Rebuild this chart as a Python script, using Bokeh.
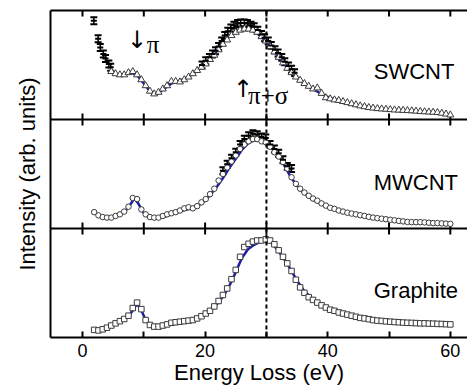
import numpy as np
from bokeh.plotting import figure
from bokeh.models import (Range1d, LinearAxis, FixedTicker, Span, Label,
                          ColumnDataSource, Whisker, TeeHead)
from bokeh.embed import file_html
from bokeh.resources import INLINE

# ---------------- data (normalised intensity inside each panel) ----------------
energy = [1.9, 2.6, 3.3, 4.0, 4.7, 5.4, 6.1, 6.8, 7.5, 8.2,
          8.9, 9.6, 10.3, 11.0, 11.7, 12.4, 13.1, 13.8, 14.5, 15.2,
          15.9, 16.6, 17.3, 18.0, 18.7, 19.4, 20.1, 20.8, 21.5, 22.2,
          22.9, 23.6, 24.3, 25.0, 25.7, 26.4, 27.1, 27.8, 28.5, 29.2,
          29.9, 30.6, 31.3, 32.0, 32.7, 33.4, 34.1, 34.8, 35.5, 36.2,
          36.9, 37.6, 38.3, 39.0, 39.7, 40.4, 41.1, 41.8, 42.5, 43.2,
          43.9, 44.6, 45.3, 46.0, 46.7, 47.4, 48.1, 48.8, 49.5, 50.2,
          50.9, 51.6, 52.3, 53.0, 53.7, 54.4, 55.1, 55.8, 56.5, 57.2,
          57.9, 58.6, 59.3, 60.0]

graphite = [0.07, 0.065, 0.075, 0.09, 0.11, 0.13, 0.15, 0.17, 0.20, 0.27,
            0.32, 0.26, 0.16, 0.115, 0.10, 0.10, 0.11, 0.12, 0.135, 0.14,
            0.145, 0.15, 0.155, 0.16, 0.175, 0.195, 0.22, 0.245, 0.285, 0.335,
            0.39, 0.45, 0.535, 0.62, 0.74, 0.83, 0.86, 0.88, 0.89, 0.89,
            0.90, 0.89, 0.855, 0.80, 0.74, 0.68, 0.61, 0.53, 0.46, 0.41,
            0.37, 0.345, 0.32, 0.295, 0.275, 0.255, 0.245, 0.23, 0.22, 0.21,
            0.20, 0.19, 0.18, 0.175, 0.168, 0.16, 0.155, 0.152, 0.148, 0.145,
            0.142, 0.14, 0.137, 0.135, 0.134, 0.132, 0.13, 0.13, 0.128, 0.127,
            0.125, 0.124, 0.122, 0.12]

mwcnt = [0.15, 0.12, 0.105, 0.10, 0.10, 0.115, 0.13, 0.155, 0.20, 0.28,
         0.27, 0.175, 0.13, 0.105, 0.10, 0.10, 0.115, 0.13, 0.14, 0.15,
         0.165, 0.185, 0.195, 0.185, 0.205, 0.24, 0.27, 0.315, 0.365, 0.44,
         0.50, 0.56, 0.615, 0.67, 0.73, 0.77, 0.80, 0.82, 0.82, 0.80,
         0.79, 0.75, 0.70, 0.66, 0.61, 0.55, 0.47, 0.41, 0.365, 0.33,
         0.30, 0.275, 0.255, 0.23, 0.21, 0.19, 0.18, 0.165, 0.155, 0.145,
         0.137, 0.13, 0.122, 0.115, 0.107, 0.10, 0.095, 0.09, 0.085, 0.08,
         0.075, 0.07, 0.065, 0.06, 0.058, 0.058, 0.058, 0.056, 0.053, 0.05,
         0.05, 0.047, 0.045, 0.043]

swcnt_energy = energy[4:]
swcnt = [0.44, 0.42, 0.41, 0.41, 0.43, 0.44, 0.41, 0.365, 0.31, 0.26,
         0.235, 0.25, 0.28, 0.31, 0.35, 0.35, 0.345, 0.365, 0.39, 0.42,
         0.45, 0.48, 0.51, 0.55, 0.59, 0.64, 0.69, 0.73, 0.77, 0.80,
         0.82, 0.83, 0.83, 0.82, 0.80, 0.76, 0.72, 0.67, 0.62, 0.57,
         0.52, 0.47, 0.43, 0.39, 0.36, 0.33, 0.305, 0.28, 0.29, 0.24,
         0.20, 0.19, 0.18, 0.175, 0.165, 0.155, 0.145, 0.135, 0.125, 0.118,
         0.11, 0.105, 0.10, 0.097, 0.094, 0.091, 0.088, 0.086, 0.084, 0.082,
         0.08, 0.077, 0.074, 0.071, 0.069, 0.067, 0.064, 0.058, 0.05, 0.042]

# error-bar series
sw_err_energy = [1.85, 2.55, 2.9, 3.4, 3.75, 4.3, 4.6,
                 19.5, 20.1, 20.7, 21.2, 21.7, 22.2, 22.7, 23.2, 23.7, 24.2,
                 24.7, 25.3, 25.8, 26.4, 26.9, 27.5, 28.0, 28.6, 29.2, 29.7,
                 30.3, 30.8, 31.4, 31.9, 32.5, 33.0, 33.6, 34.1, 34.6]
sw_err_value = [0.905, 0.74, 0.66, 0.60, 0.56, 0.51, 0.48,
                0.50, 0.54, 0.57, 0.60, 0.63, 0.67, 0.72, 0.77, 0.81, 0.84,
                0.865, 0.88, 0.885, 0.885, 0.88, 0.865, 0.85, 0.82, 0.78, 0.75,
                0.72, 0.68, 0.64, 0.61, 0.57, 0.53, 0.49, 0.46, 0.43]
mw_err_energy = [22.9, 23.6, 24.3, 25.0, 25.7, 26.4, 27.1, 27.8, 28.5,
                 29.2, 29.9, 30.6, 31.3, 32.0, 32.7, 33.4, 34.1]
mw_err_value = [0.53, 0.59, 0.645, 0.70, 0.77, 0.82, 0.85, 0.87, 0.86,
                0.84, 0.83, 0.77, 0.73, 0.69, 0.63, 0.57, 0.55]
err_half = 0.032

# fitted curves (blue)
sw_fit_energy = [5, 6, 7, 8, 9, 10, 11, 11.8, 12.5, 13.5,
                 14.5, 15.5, 16.5, 17.5, 18.5, 19.5, 20.5, 21.5, 22.5, 23.5,
                 24.5, 25.5, 26.5, 27.5, 28.5, 29.5, 30.5, 31.5, 32.5, 33.5,
                 34.5, 35.5, 36.5, 37.5, 38.5, 39.5, 40.5, 42, 44, 46,
                 48, 50, 52, 54, 56, 58, 60]
sw_fit = [0.43, 0.41, 0.42, 0.43, 0.40, 0.33, 0.26, 0.23, 0.25, 0.29,
          0.33, 0.35, 0.37, 0.40, 0.44, 0.49, 0.54, 0.60, 0.67, 0.74,
          0.79, 0.82, 0.83, 0.82, 0.79, 0.74, 0.68, 0.61, 0.54, 0.47,
          0.41, 0.36, 0.315, 0.28, 0.25, 0.22, 0.195, 0.17, 0.14, 0.12,
          0.10, 0.09, 0.082, 0.075, 0.068, 0.058, 0.045]
mw_fit_energy = [5, 6, 7, 7.8, 8.5, 9.2, 10, 11, 12, 13,
                 14, 15, 16, 17, 18, 19, 20, 21, 22, 23,
                 24, 25, 26, 27, 28, 29, 30, 31, 32, 33,
                 34, 35, 36, 37, 38, 40, 42, 44, 46, 48,
                 50, 52, 54, 56, 58, 60]
mw_fit = [0.11, 0.125, 0.16, 0.22, 0.28, 0.22, 0.14, 0.105, 0.095, 0.10,
          0.12, 0.14, 0.16, 0.175, 0.19, 0.215, 0.255, 0.32, 0.39, 0.47,
          0.56, 0.64, 0.72, 0.78, 0.81, 0.81, 0.79, 0.74, 0.67, 0.57,
          0.47, 0.39, 0.33, 0.285, 0.25, 0.195, 0.16, 0.135, 0.115, 0.095,
          0.08, 0.067, 0.058, 0.053, 0.048, 0.043]
gr_fit_energy = [7.5, 8.2, 8.9, 9.6, 10.3, 11, 12, 13, 14, 15,
                 16, 17, 18, 19, 20, 21, 22, 23, 24, 25,
                 26, 27, 28, 29, 30, 31, 32, 33, 34, 35,
                 36, 37, 38, 39, 40, 42, 44, 46, 48, 50,
                 52, 54, 56, 58, 60]
gr_fit = [0.19, 0.25, 0.31, 0.25, 0.16, 0.12, 0.10, 0.105, 0.12, 0.13,
          0.14, 0.15, 0.16, 0.18, 0.21, 0.25, 0.31, 0.38, 0.48, 0.60,
          0.73, 0.81, 0.85, 0.88, 0.895, 0.86, 0.79, 0.71, 0.62, 0.52,
          0.44, 0.38, 0.33, 0.295, 0.265, 0.225, 0.195, 0.175, 0.157, 0.145,
          0.138, 0.132, 0.128, 0.125, 0.12]

major_ticks = [0, 20, 40, 60]
minor_ticks = [10, 30, 50]
all_ticks = [0, 10, 20, 30, 40, 50, 60]
panel_names = ["Graphite", "MWCNT", "SWCNT"]      # bottom -> top
panel_offset = {"Graphite": 0, "MWCNT": 1, "SWCNT": 2}
marker_line = 30.0

SANS = "Liberation Sans"
SERIF = "Liberation Serif"
BLUE = "#1e1ea8"
MK = "#3a3a3a"

p = figure(width=467, height=387, output_backend="svg", toolbar_location=None,
           x_range=Range1d(-5.22, 62.8), y_range=Range1d(0, 3),
           x_axis_location=None, y_axis_location=None,
           min_border_left=50, min_border_right=0, min_border_top=10,
           min_border_bottom=49)
p.outline_line_color = None
p.grid.visible = False
p.background_fill_color = "white"

# axes
bottom = LinearAxis(ticker=FixedTicker(ticks=major_ticks, minor_ticks=minor_ticks),
                    axis_label="Energy Loss (eV)", axis_label_text_color="black",
                    axis_label_text_font=SANS, axis_label_text_font_size="22px",
                    axis_label_text_font_style="normal", axis_label_standoff=0,
                    major_tick_in=6, major_tick_out=0,
                    minor_tick_in=6, minor_tick_out=0,
                    axis_line_width=2, major_tick_line_width=2, minor_tick_line_width=2,
                    minor_tick_line_color="black",
                    major_label_text_font=SANS, major_label_text_font_size="18px",
                    major_label_text_color="black", major_label_standoff=6)
p.add_layout(bottom, "below")
top = LinearAxis(ticker=FixedTicker(ticks=[]), major_tick_in=0, major_tick_out=0,
                 major_label_standoff=0, minor_tick_line_color=None, axis_line_width=2)
p.add_layout(top, "above")
left = LinearAxis(ticker=FixedTicker(ticks=[]), axis_label="Intensity (arb. units)",
                  axis_label_text_color="black",
                  axis_label_text_font=SANS, axis_label_text_font_size="22px",
                  axis_label_text_font_style="normal", axis_label_standoff=11,
                  major_label_standoff=0, major_tick_in=0, major_tick_out=0,
                  minor_tick_line_color=None, axis_line_width=2)
p.add_layout(left, "left")

# internal panel borders, and inward ticks on every inner/top border
for b in [1, 2]:
    p.add_layout(Span(location=b, dimension="width", line_color="black", line_width=2))
tick_x = all_ticks * 3
tick_y = [1] * len(all_ticks) + [2] * len(all_ticks) + [3] * len(all_ticks)
p.scatter(x=tick_x, y=tick_y, marker="dash", angle=np.pi / 2, size=12,
          line_width=2, line_color="black")

# fits
p.line(gr_fit_energy, np.array(gr_fit) + panel_offset["Graphite"], line_color=BLUE, line_width=2.5)
p.line(mw_fit_energy, np.array(mw_fit) + panel_offset["MWCNT"], line_color=BLUE, line_width=2.5)
p.line(sw_fit_energy, np.array(sw_fit) + panel_offset["SWCNT"], line_color=BLUE, line_width=2.5)

# open markers
p.scatter(energy, np.array(graphite) + panel_offset["Graphite"], marker="square", size=5.5,
          fill_color="white", line_color=MK, line_width=1)
p.scatter(energy, np.array(mwcnt) + panel_offset["MWCNT"], marker="circle", size=5.5,
          fill_color="white", line_color=MK, line_width=1)
p.scatter(swcnt_energy, np.array(swcnt) + panel_offset["SWCNT"], marker="triangle", size=7,
          fill_color="white", line_color=MK, line_width=1)

# black error bars
for ex, ev, off in [(sw_err_energy, sw_err_value, panel_offset["SWCNT"]),
                    (mw_err_energy, mw_err_value, panel_offset["MWCNT"])]:
    yv = np.array(ev) + off
    src = ColumnDataSource(dict(x=ex, y=yv, lo=yv - err_half, hi=yv + err_half))
    p.add_layout(Whisker(source=src, base="x", upper="hi", lower="lo", dimension="height",
                         line_color="black", line_width=1.5,
                         upper_head=TeeHead(size=7, line_width=2, line_color="black"),
                         lower_head=TeeHead(size=7, line_width=2, line_color="black")))
    p.scatter("x", "y", source=src, marker="dash", size=6, line_width=2, line_color="black")

# dashed marker line
p.add_layout(Span(location=marker_line, dimension="height", line_color="black",
                  line_width=2, line_dash="4 3"))

# panel labels
label_y = {"SWCNT": 2.441, "MWCNT": 1.424, "Graphite": 0.435}
for name in panel_names:
    p.add_layout(Label(x=47.5, y=label_y[name], text=name, text_font=SANS,
                       text_font_size="22px", text_baseline="alphabetic",
                       text_color="black"))

# peak annotations
p.add_layout(Label(x=8.9, y=2.725, text="\u2193", text_font="DejaVu Sans",
                   text_font_size="24px", text_align="center",
                   text_baseline="alphabetic", text_color="black"))
p.add_layout(Label(x=10.5, y=2.688, text="\u03c0", text_font=SERIF,
                   text_font_size="25px", text_baseline="alphabetic", text_color="black"))
p.add_layout(Label(x=26.2, y=2.28, text="\u2191", text_font="DejaVu Sans",
                   text_font_size="24px", text_align="center",
                   text_baseline="alphabetic", text_color="black"))
p.add_layout(Label(x=27.0, y=2.221, text="\u03c0+\u03c3", text_font=SERIF,
                   text_font_size="25px", text_baseline="alphabetic", text_color="black"))

open("out.html", "w").write(file_html(p, INLINE))
